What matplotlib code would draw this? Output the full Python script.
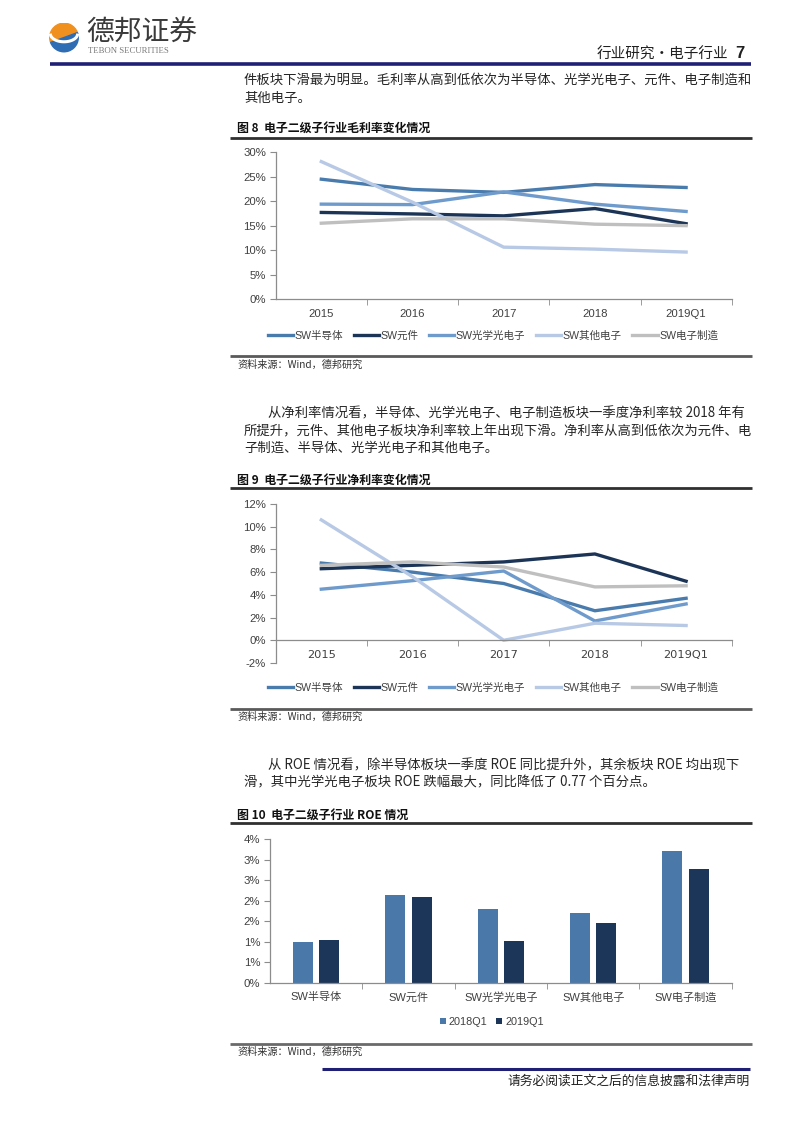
import numpy as np
import matplotlib
matplotlib.use("Agg")
import matplotlib.pyplot as plt
from matplotlib.lines import Line2D
from matplotlib.patches import Wedge, Rectangle
from matplotlib.ticker import FixedLocator, FuncFormatter

# ---------------- data ----------------
years = ["2015", "2016", "2017", "2018", "2019Q1"]
series_names = ["SW半导体", "SW元件", "SW光学光电子", "SW其他电子", "SW电子制造"]

gross_semis = [24.5, 22.4, 21.8, 23.4, 22.8]
gross_comp = [17.7, 17.4, 17.0, 18.5, 15.4]
gross_optic = [19.4, 19.3, 21.9, 19.4, 17.9]
gross_other = [28.1, 19.8, 10.6, 10.2, 9.6]
gross_manu = [15.5, 16.4, 16.4, 15.3, 15.0]

net_semis = [6.8, 6.0, 5.0, 2.6, 3.7]
net_comp = [6.3, 6.6, 6.9, 7.6, 5.2]
net_optic = [4.5, 5.25, 6.1, 1.7, 3.2]
net_other = [10.6, 5.6, 0.0, 1.5, 1.3]
net_manu = [6.6, 6.9, 6.45, 4.7, 4.8]

roe_cats = ["SW半导体", "SW元件", "SW光学光电子", "SW其他电子", "SW电子制造"]
roe_2018q1 = [1.00, 2.13, 1.80, 1.70, 3.21]
roe_2019q1 = [1.05, 2.08, 1.02, 1.45, 2.76]
roe_series = ["2018Q1", "2019Q1"]
roe_ticks = [0, 0.5, 1.0, 1.5, 2.0, 2.5, 3.0, 3.5]
roe_ticklabels = ["0%", "1%", "1%", "2%", "2%", "3%", "3%", "4%"]

gross_ticks = [0, 5, 10, 15, 20, 25, 30]
net_ticks = [-2, 0, 2, 4, 6, 8, 10, 12]

line_colors = ["#4A7BAD", "#1C3557", "#6E9BCB", "#B7C9E5", "#BFBFBF"]
bar_colors = ["#4A78A8", "#1B3658"]

# ---------------- figure ----------------
W, H = 802, 1133
fig = plt.figure(figsize=(W / 100, H / 100), dpi=100)
fig.patch.set_facecolor("white")

CJK = ["Noto Sans CJK SC", "DejaVu Sans"]
LAT = ["Liberation Sans", "Noto Sans CJK SC", "DejaVu Sans"]
TXT = "#262626"
AX = "#404040"


def fx(x):
    return x / W


def fy(y):
    return 1 - y / H


def hline(x0, x1, y, color, lw):
    fig.add_artist(Line2D([fx(x0), fx(x1)], [fy(y), fy(y)], color=color, lw=lw,
                          transform=fig.transFigure, solid_capstyle="butt"))


def text(x, y, s, size=9.6, ha="left", va="center", **kw):
    kw.setdefault("family", CJK)
    kw.setdefault("color", TXT)
    fig.text(fx(x), fy(y), s, fontsize=size, ha=ha, va=va, **kw)


def add_axes_px(left, top, right, bottom):
    return fig.add_axes([fx(left), fy(bottom), (right - left) / W, (bottom - top) / H])


def style_axes(ax, yticks, ylabels):
    for s in ["top", "right"]:
        ax.spines[s].set_visible(False)
    for s in ["left", "bottom"]:
        ax.spines[s].set_color("#8C8C8C")
        ax.spines[s].set_linewidth(0.9)
    ax.set_yticks(yticks)
    ax.set_yticklabels(ylabels)
    ax.tick_params(axis="y", direction="out", length=4, color="#8C8C8C", labelsize=8.2,
                   labelcolor=AX, pad=3)
    ax.set_xlim(-0.5, 4.5)
    ax.set_xticks(range(5))
    ax.tick_params(axis="x", which="major", length=0, labelsize=8.2, labelcolor=AX, pad=7)
    ax.xaxis.set_minor_locator(FixedLocator([0.5, 1.5, 2.5, 3.5, 4.5]))
    ax.tick_params(axis="x", which="minor", direction="out", length=4, color="#8C8C8C")
    for lab in ax.get_xticklabels() + ax.get_yticklabels():
        lab.set_family(LAT)
    ax.set_facecolor("none")


def line_legend(ax, ycen):
    leg = ax.legend(loc="center", bbox_to_anchor=(fx(493), fy(ycen)), bbox_transform=fig.transFigure,
                    ncol=5, frameon=False, handlelength=2.4, columnspacing=1.0, handletextpad=0.15,
                    prop={"family": LAT, "size": 7.6})
    for t in leg.get_texts():
        t.set_color(AX)
    return leg


# ---------------- header ----------------
lax = fig.add_axes([fx(49), fy(53), 30 / W, 31 / H])
lax.set_xlim(-1.05, 1.05)
lax.set_ylim(-1.05, 1.05)
lax.set_aspect("equal")
lax.axis("off")
lax.add_patch(Wedge((0, 0), 1, 20, 200, color="#F0901E"))
lax.add_patch(Wedge((0, 0), 1, 200, 380, color="#2E6DB4"))
th = np.linspace(np.pi * 1.05, np.pi * 1.95, 40)
lax.plot(0.95 * np.cos(th), 0.55 * np.sin(th) + 0.25, color="white", lw=2.2)

text(86, 33, "德邦证券", size=20, color="#3A3A3A", va="center")
text(88, 51, "TEBON SECURITIES", size=6.3, color="#7A7A7A", family=["Liberation Serif", "DejaVu Serif"])

text(728, 55, "行业研究•电子行业", size=10.5, ha="right", color="#202020")
text(744, 53, "7", size=12, ha="right", weight="bold", family=["Liberation Sans"], color="#202020")
hline(50, 751, 64, "#1F1F75", 2.6)

# ---------------- paragraph 1 ----------------
text(244, 80, "件板块下滑最为明显。毛利率从高到低依次为半导体、光学光电子、元件、电子制造和", size=9.6)
text(244, 98, "其他电子。", size=9.6)

# ---------------- chart 1 ----------------
text(237, 128, "图 8  电子二级子行业毛利率变化情况", size=8.6, weight="bold", color="#111111")
hline(230, 752, 138, "#303030", 2.0)

ax1 = add_axes_px(275.7, 152.3, 731.7, 299)
x = np.arange(len(years))
for vals, name, c in zip([gross_semis, gross_comp, gross_optic, gross_other, gross_manu],
                         series_names, line_colors):
    ax1.plot(x, vals, color=c, lw=2.4, label=name, solid_joinstyle="round")
ax1.set_ylim(0, 30)
style_axes(ax1, gross_ticks, [f"{t}%" for t in gross_ticks])
ax1.set_xticklabels(years)
line_legend(ax1, 336)

hline(230, 752, 356, "#5A5A5A", 2.0)
text(237, 365, "资料来源：Wind，德邦研究", size=7.3, style="italic", color="#333333")

# ---------------- paragraph 2 ----------------
text(268, 413, "从净利率情况看，半导体、光学光电子、电子制造板块一季度净利率较 2018 年有", size=9.6)
text(244, 431, "所提升，元件、其他电子板块净利率较上年出现下滑。净利率从高到低依次为元件、电", size=9.6)
text(244, 448, "子制造、半导体、光学光电子和其他电子。", size=9.6)

# ---------------- chart 2 ----------------
text(237, 480, "图 9  电子二级子行业净利率变化情况", size=8.6, weight="bold", color="#111111")
hline(230, 752, 488, "#303030", 2.0)

ax2 = add_axes_px(275.7, 504, 731.7, 663)
for vals, name, c in zip([net_semis, net_comp, net_optic, net_other, net_manu],
                         series_names, line_colors):
    ax2.plot(x, vals, color=c, lw=2.4, label=name, solid_joinstyle="round")
ax2.set_ylim(-2, 12)
style_axes(ax2, net_ticks, [f"{t}%" for t in net_ticks])
ax2.spines["bottom"].set_position(("data", 0))
ax2.set_xticklabels(years)
line_legend(ax2, 688)

hline(230, 752, 709, "#5A5A5A", 2.0)
text(237, 717, "资料来源：Wind，德邦研究", size=7.3, style="italic", color="#333333")

# ---------------- paragraph 3 ----------------
text(268, 765, "从 ROE 情况看，除半导体板块一季度 ROE 同比提升外，其余板块 ROE 均出现下", size=9.6)
text(244, 782, "滑，其中光学光电子板块 ROE 跌幅最大，同比降低了 0.77 个百分点。", size=9.6)

# ---------------- chart 3 ----------------
text(237, 815, "图 10  电子二级子行业 ROE 情况", size=8.6, weight="bold", color="#111111")
hline(230, 752, 823, "#303030", 2.0)

ax3 = add_axes_px(270, 839, 731.7, 982.7)
bw = 0.217
off = 0.142
xb = np.arange(len(roe_cats))
ax3.bar(xb - off, roe_2018q1, width=bw, color=bar_colors[0], label=roe_series[0])
ax3.bar(xb + off, roe_2019q1, width=bw, color=bar_colors[1], label=roe_series[1])
ax3.set_ylim(0, 3.5)
style_axes(ax3, roe_ticks, roe_ticklabels)
ax3.set_xticklabels(roe_cats)
for lab in ax3.get_xticklabels():
    lab.set_fontsize(8.0)
leg = ax3.legend(loc="center", bbox_to_anchor=(fx(492), fy(1022)), bbox_transform=fig.transFigure,
                 ncol=2, frameon=False, handlelength=0.55, handleheight=0.55, columnspacing=0.8,
                 handletextpad=0.25, prop={"family": LAT, "size": 7.8})
for t in leg.get_texts():
    t.set_color(AX)

hline(230, 752, 1044, "#6A6A6A", 2.0)
text(237, 1052, "资料来源：Wind，德邦研究", size=7.3, style="italic", color="#333333")

# ---------------- footer ----------------
hline(322, 750, 1069, "#1F1F75", 2.2)
text(750, 1081, "请务必阅读正文之后的信息披露和法律声明", size=9.2, ha="right", color="#202020")

fig.savefig("out.png", dpi=100, facecolor="white")
